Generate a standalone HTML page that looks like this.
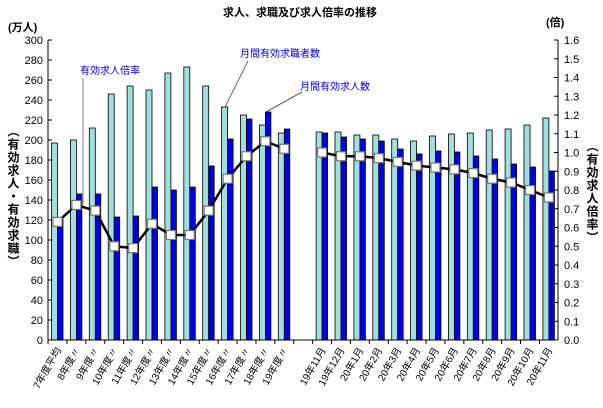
<!DOCTYPE html>
<html><head><meta charset="utf-8"><style>
body{margin:0;background:#fff}
svg text{font-family:"Liberation Sans","Noto Sans CJK JP",sans-serif}
</style></head><body>
<svg id="c" width="603" height="403" xmlns="http://www.w3.org/2000/svg">
<text x="300" y="16" text-anchor="middle" font-size="11" font-weight="bold">求人、求職及び求人倍率の推移</text>
<text x="8" y="31" font-size="11" font-weight="bold">(万人)</text>
<text x="546" y="26" font-size="11" font-weight="bold">(倍)</text>
<text x="13" y="125" font-size="12" font-weight="bold" writing-mode="tb" letter-spacing="1">（有効求人・有効求職）</text>
<text x="592" y="140" font-size="12" font-weight="bold" writing-mode="tb" letter-spacing="1">（有効求人倍率）</text>
<g id="g"></g>
<text x="80" y="74" font-size="10" fill="#0000ee">有効求人倍率</text>
<line x1="83" y1="78" x2="83" y2="205" stroke="#999" stroke-width="1.2"/>
<text x="240" y="57" font-size="10" fill="#0000ee">月間有効求職者数</text>
<line x1="248" y1="61" x2="225" y2="107" stroke="#333" stroke-width="0.8"/>
<text x="300" y="90" font-size="10" fill="#0000ee">月間有効求人数</text>
<line x1="302" y1="92" x2="266" y2="112" stroke="#333" stroke-width="0.8"/>
</svg>
<script>
const categories=["7年度平均","8年度〃","9年度〃","10年度〃","11年度〃","12年度〃","13年度〃","14年度〃","15年度〃","16年度〃","17年度〃","18年度〃","19年度〃",null,"19年11月","19年12月","20年1月","20年2月","20年3月","20年4月","20年5月","20年6月","20年7月","20年8月","20年9月","20年10月","20年11月"];
const openings=[197,200,212,246,254,250,267,273,254,233,225,215,207,null,208,208,205,205,201,199,204,206,207,210,211,215,222];
const seekers=[121,146,146,123,124,153,150,153,174,201,221,228,211,null,207,203,201,199,191,186,189,188,184,181,176,173,169];
const ratio=[0.63,0.72,0.69,0.50,0.49,0.62,0.56,0.56,0.69,0.86,0.98,1.06,1.02,null,1.00,0.98,0.98,0.97,0.95,0.93,0.92,0.91,0.89,0.86,0.84,0.80,0.76];
const leftTicks=[0,20,40,60,80,100,120,140,160,180,200,220,240,260,280,300];
const rightTicks=["0.0","0.1","0.2","0.3","0.4","0.5","0.6","0.7","0.8","0.9","1.0","1.1","1.2","1.3","1.4","1.5","1.6"];
const NS="http://www.w3.org/2000/svg",g=document.getElementById('g');
const X0=48,X1=558,Y0=340,Y1=40,SW=18.9,C0=57.5;
const yL=v=>Y0-(v/300)*(Y0-Y1), yR=v=>Y0-(v/1.6)*(Y0-Y1), xC=i=>C0+i*SW;
function mk(t,a){const e=document.createElementNS(NS,t);for(const k in a)e.setAttribute(k,a[k]);g.appendChild(e);return e;}
leftTicks.forEach(v=>{
 const t=mk('text',{x:X0-5,y:yL(v)+4,'text-anchor':'end','font-size':11});t.textContent=v;
 
 
 mk('line',{x1:X0,x2:X0+4,y1:yL(v),y2:yL(v),stroke:'#000'});
});
rightTicks.forEach(s=>{
 const v=parseFloat(s);
 const t=mk('text',{x:X1+6,y:yR(v)+4,'font-size':11});t.textContent=s;
 
 
 mk('line',{x1:X1-4,x2:X1,y1:yR(v),y2:yR(v),stroke:'#000'});
});
categories.forEach((c,i)=>{
 const cx=xC(i);
 mk('line',{x1:cx-SW/2,x2:cx-SW/2,y1:Y0,y2:Y0+4,stroke:'#000'});
 if(c===null)return;
 const b1=mk('rect',{x:cx-6,y:yL(openings[i]),width:6,height:Y0-yL(openings[i]),fill:'#9fe0dc',stroke:'#000','stroke-width':0.8});
 
 
 const b2=mk('rect',{x:cx,y:yL(seekers[i]),width:5.5,height:Y0-yL(seekers[i]),fill:'#0000ee',stroke:'#000','stroke-width':0.8});
 
 
 const t=mk('text',{x:cx+4,y:Y0+10,'text-anchor':'end','font-size':10,transform:`rotate(-60 ${cx+4} ${Y0+10})`});
 t.textContent=c;
 
 
});
mk('line',{x1:X0,x2:X0,y1:Y1,y2:Y0,stroke:'#000'});
mk('line',{x1:X1,x2:X1,y1:Y1,y2:Y0,stroke:'#000'});
mk('line',{x1:X0,x2:X1,y1:Y0,y2:Y0,stroke:'#000'});
[[0,13],[14,27]].forEach(([a,b])=>{
 let d='';for(let i=a;i<b;i++)d+=(i===a?'M':'L')+xC(i)+','+yR(ratio[i]);
 const p=mk('path',{d:d,fill:'none',stroke:'#000','stroke-width':2.5});
 
 
 for(let i=a;i<b;i++){
  const m=mk('rect',{x:xC(i)-4.5,y:yR(ratio[i])-4.5,width:9,height:9,fill:'#fff',stroke:'#777','stroke-width':1.2});
  
  
 }
});
</script>
</body></html>
